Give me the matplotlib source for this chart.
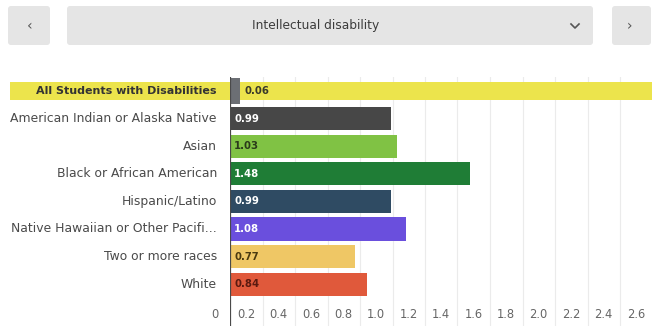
import matplotlib
matplotlib.use("Agg")
import matplotlib.pyplot as plt
from matplotlib.patches import FancyBboxPatch, Rectangle
from matplotlib.transforms import blended_transform_factory

plt.rcParams['font.family'] = ['DejaVu Sans']

title = "Intellectual disability"
categories = ["All Students with Disabilities", "American Indian or Alaska Native", "Asian",
              "Black or African American", "Hispanic/Latino", "Native Hawaiian or Other Pacifi...",
              "Two or more races", "White"]
values = [0.06, 0.99, 1.03, 1.48, 0.99, 1.08, 0.77, 0.84]
value_labels = ["0.06", "0.99", "1.03", "1.48", "0.99", "1.08", "0.77", "0.84"]
colors = ["#6c6f74", "#474747", "#80c244", "#1f7d36", "#2f4b63", "#6a4fdd", "#efc765", "#e0593b"]
label_colors = ["#3a3a2a", "#ffffff", "#2a3a1a", "#ffffff", "#ffffff", "#ffffff", "#4a3a10", "#5a1a10"]
tick_values = [0, 0.2, 0.4, 0.6, 0.8, 1.0, 1.2, 1.4, 1.6, 1.8, 2.0, 2.2, 2.4, 2.6]
tick_labels = ["0", "0.2", "0.4", "0.6", "0.8", "1.0", "1.2", "1.4", "1.6", "1.8", "2.0", "2.2", "2.4", "2.6"]

W, H = 654, 329
fig = plt.figure(figsize=(W / 100, H / 100), dpi=100)
fig.patch.set_facecolor("white")

# header overlay
hax = fig.add_axes([0, 0, 1, 1])
hax.set_xlim(0, W)
hax.set_ylim(H, 0)
hax.axis("off")
box_col = "#e5e5e5"
for x0, x1 in [(8, 50), (67, 593), (612, 651)]:
    hax.add_patch(FancyBboxPatch((x0, 6), x1 - x0, 39, boxstyle="round,pad=0,rounding_size=3",
                                 facecolor=box_col, edgecolor="none"))
hax.text(316, 26, title, ha="center", va="center", fontsize=8.8, color="#3c3c3c")
hax.text(30, 26, "‹", ha="center", va="center", fontsize=10, color="#555555")
hax.text(630, 26, "›", ha="center", va="center", fontsize=10, color="#555555")
hax.plot([571, 575, 579], [24, 28, 24], color="#555555", lw=1.2)

# main axes: left at 230px, right at 650px, top 77px, bottom 326px
row0, step = 91.0, 27.6
top_px, bot_px = 77, 326
ax = fig.add_axes([230 / W, (H - bot_px) / H, (650 - 230) / W, (bot_px - top_px) / H])
xmax = (650 - 230) / 162.5
ax.set_xlim(0, xmax)
ax.set_ylim((bot_px - row0) / step, -(row0 - top_px) / step)
ax.set_facecolor("none")
for s in ax.spines.values():
    s.set_visible(False)
ax.set_xticks([])
ax.set_yticks([])

for v in tick_values[1:]:
    if v < xmax:
        ax.axvline(v, color="#ebebeb", lw=0.8, zorder=0)
ax.axvline(0, color="#4a4a4a", lw=1.6, zorder=4)

ypos = list(range(len(categories)))
heights = [0.95] + [0.84] * (len(categories) - 1)
ax.barh(ypos, values, height=heights, color=colors, zorder=3)

# highlight band for first row
bt = blended_transform_factory(fig.transFigure, ax.transData)
ax.add_patch(Rectangle((10 / W, -0.33), (652 - 10) / W, 0.66, transform=bt,
                       facecolor="#ece44c", edgecolor="none", zorder=1, clip_on=False))

for i, (cat, lab, lc, v) in enumerate(zip(categories, value_labels, label_colors, values)):
    ax.text(-0.08, i, cat, ha="right", va="center", fontsize=8.0 if i == 0 else 8.9,
            color="#333333" if i == 0 else "#4a4a4a",
            fontweight="bold" if i == 0 else "normal", clip_on=False)
    x = v + 0.03 if v < 0.2 else 0.025
    ax.text(x, i, lab, ha="left", va="center", fontsize=7.3, fontweight="bold",
            color=lc, zorder=5)

ty = (314 - row0) / step
for v, t in zip(tick_values, tick_labels):
    ax.text(v - 0.1 if v > 0 else -0.09, ty, t, ha="center", va="center",
            fontsize=8.3, color="#666666", clip_on=False)

fig.savefig("out.png", dpi=100)
